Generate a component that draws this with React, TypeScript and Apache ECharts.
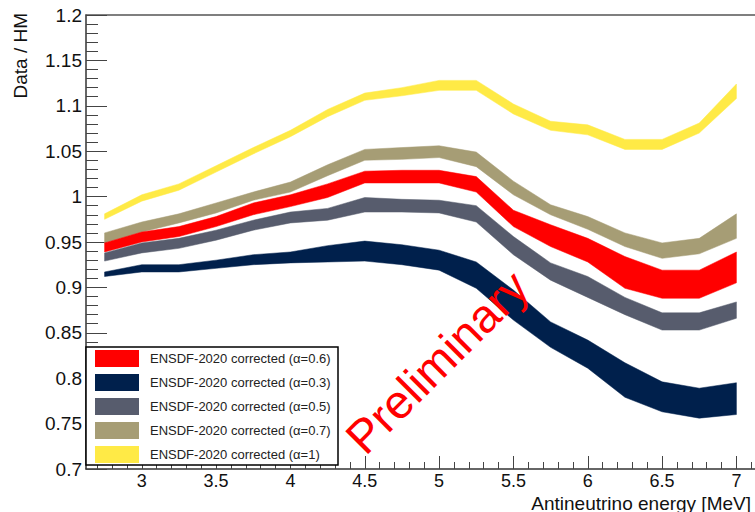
import React, { useEffect, useRef } from "react";
import * as echarts from "echarts";

// Bin centres (MeV)
const energy = [2.75, 3.0, 3.25, 3.5, 3.75, 4.0, 4.25, 4.5, 4.75, 5.0, 5.25, 5.5, 5.75, 6.0, 6.25, 6.5, 6.75, 7.0];

// alpha = 0.6 (red)
const a06Low = [0.939, 0.950, 0.956, 0.967, 0.980, 0.989, 0.999, 1.015, 1.015, 1.015, 1.005, 0.967, 0.945, 0.928, 0.899, 0.888, 0.888, 0.905];
const a06High = [0.949, 0.961, 0.967, 0.978, 0.993, 1.002, 1.014, 1.028, 1.029, 1.029, 1.022, 0.985, 0.969, 0.954, 0.934, 0.919, 0.919, 0.939];
// alpha = 0.3 (navy)
const a03Low = [0.912, 0.917, 0.917, 0.921, 0.925, 0.927, 0.928, 0.929, 0.925, 0.919, 0.899, 0.864, 0.834, 0.811, 0.779, 0.763, 0.756, 0.760];
const a03High = [0.917, 0.925, 0.925, 0.930, 0.936, 0.939, 0.946, 0.951, 0.947, 0.941, 0.928, 0.897, 0.862, 0.842, 0.817, 0.796, 0.789, 0.795];
// alpha = 0.5 (grey)
const a05Low = [0.929, 0.938, 0.943, 0.952, 0.963, 0.971, 0.974, 0.983, 0.983, 0.982, 0.972, 0.936, 0.908, 0.889, 0.870, 0.853, 0.853, 0.866];
const a05High = [0.938, 0.949, 0.954, 0.963, 0.974, 0.983, 0.987, 0.999, 0.997, 0.996, 0.990, 0.956, 0.927, 0.912, 0.889, 0.872, 0.872, 0.884];
// alpha = 0.7 (tan)
const a07Low = [0.949, 0.961, 0.971, 0.982, 0.996, 1.005, 1.023, 1.040, 1.041, 1.043, 1.033, 1.002, 0.980, 0.964, 0.945, 0.932, 0.937, 0.954];
const a07High = [0.960, 0.972, 0.981, 0.993, 1.005, 1.016, 1.035, 1.052, 1.054, 1.056, 1.049, 1.017, 0.991, 0.978, 0.960, 0.949, 0.954, 0.981];
// alpha = 1 (yellow)
const a1Low = [0.975, 0.995, 1.007, 1.027, 1.047, 1.066, 1.088, 1.106, 1.111, 1.117, 1.117, 1.091, 1.073, 1.068, 1.052, 1.052, 1.070, 1.108];
const a1High = [0.981, 1.002, 1.014, 1.034, 1.054, 1.073, 1.096, 1.114, 1.120, 1.128, 1.128, 1.102, 1.083, 1.079, 1.063, 1.063, 1.081, 1.124];

const seriesNames = [
  "ENSDF-2020 corrected (\u03b1=0.6)",
  "ENSDF-2020 corrected (\u03b1=0.3)",
  "ENSDF-2020 corrected (\u03b1=0.5)",
  "ENSDF-2020 corrected (\u03b1=0.7)",
  "ENSDF-2020 corrected (\u03b1=1)",
];

const majorTicksX = [3, 3.5, 4, 4.5, 5, 5.5, 6, 6.5, 7];
const minorTicksX = [2.7, 2.8, 2.9, 3.1, 3.2, 3.3, 3.4, 3.6, 3.7, 3.8, 3.9, 4.1, 4.2, 4.3, 4.4, 4.6, 4.7, 4.8, 4.9, 5.1, 5.2, 5.3, 5.4, 5.6, 5.7, 5.8, 5.9, 6.1, 6.2, 6.3, 6.4, 6.6, 6.7, 6.8, 6.9, 7.1];

const FONT = "'Liberation Sans', Arial, Helvetica, sans-serif";

function band(name: string, lo: number[], hi: number[], color: string) {
  return {
    type: "custom",
    name,
    xAxisIndex: 0,
    yAxisIndex: 0,
    itemStyle: { color },
    data: energy.map((x, i) => [x, lo[i], hi[i]]),
    encode: { x: 0, y: [1, 2] },
    renderItem: (params: any, api: any) => {
      if (params.dataIndex !== 0) return null;
      const pts: number[][] = [];
      for (let i = 0; i < energy.length; i++) pts.push(api.coord([energy[i], hi[i]]));
      for (let i = energy.length - 1; i >= 0; i--) pts.push(api.coord([energy[i], lo[i]]));
      return {
        type: "polygon",
        shape: { points: pts },
        style: { fill: color, stroke: color, lineWidth: 0.5 },
      };
    },
  };
}

export default function App() {
  const ref = useRef<HTMLDivElement>(null);
  useEffect(() => {
    if (!ref.current) return;
    const chart = echarts.init(ref.current, null, { renderer: "svg" });
    const axisColor = "#333";
    chart.setOption({
      animation: false,
      backgroundColor: "#fff",
      grid: { left: 86, right: 0, top: 15, bottom: 43, containLabel: false },
      xAxis: [
        {
          type: "value",
          position: "bottom",
          min: 2.625,
          max: 7.125,
          axisLine: { show: true, lineStyle: { color: axisColor, width: 1.5 } },
          axisTick: { show: true, inside: true, length: 13, customValues: majorTicksX, lineStyle: { color: "#444" } },
          axisLabel: { show: true, customValues: majorTicksX, fontSize: 18, fontFamily: FONT, color: "#111", margin: 3 },
          splitLine: { show: false },
        },
        {
          type: "value",
          position: "bottom",
          min: 2.625,
          max: 7.125,
          axisLine: { show: false },
          axisTick: { show: true, inside: true, length: 7, customValues: minorTicksX, lineStyle: { color: "#444" } },
          axisLabel: { show: false },
          splitLine: { show: false },
        },
        {
          type: "value",
          position: "top",
          min: 2.625,
          max: 7.125,
          axisLine: { show: true, lineStyle: { color: "#555", width: 1.5 } },
          axisTick: { show: false },
          axisLabel: { show: false },
          splitLine: { show: false },
        },
      ],
      yAxis: {
        type: "value",
        min: 0.7,
        max: 1.2,
        interval: 0.05,
        axisLine: { show: true, lineStyle: { color: axisColor, width: 1.5 } },
        axisTick: { show: true, inside: true, length: 21, lineStyle: { color: "#444" } },
        minorTick: { show: true, splitNumber: 5, length: 12, lineStyle: { color: "#444" } },
        axisLabel: { fontSize: 19, fontFamily: FONT, color: "#111", margin: 4 },
        splitLine: { show: false },
      },
      legend: {
        orient: "vertical",
        left: 90,
        top: 345,
        padding: 5,
        itemWidth: 44,
        itemHeight: 17,
        itemGap: 7,
        icon: "rect",
        selectedMode: false,
        z: 6,
        data: seriesNames,
        textStyle: { fontSize: 13, fontFamily: FONT, color: "#222", padding: [0, 0, 0, 6] },
      },
      graphic: [
        {
          type: "rect",
          z: 5,
          shape: { x: 86, y: 347, width: 252, height: 118 },
          style: { fill: "#fff", stroke: "#000", lineWidth: 1.5 },
        },
        {
          type: "text",
          z: 10,
          x: 20,
          y: 13,
          rotation: Math.PI / 2,
          style: { text: "Data / HM", font: `19px ${FONT}`, fill: "#111", textAlign: "right", textVerticalAlign: "middle" },
        },
        {
          type: "text",
          z: 10,
          x: 751,
          y: 503,
          style: { text: "Antineutrino energy [MeV]", font: `19px ${FONT}`, fill: "#111", textAlign: "right", textVerticalAlign: "middle" },
        },
        {
          type: "text",
          z: 10,
          x: 437,
          y: 362,
          rotation: Math.PI / 4,
          style: { text: "Preliminary", font: `47px ${FONT}`, fill: "#ff0000", textAlign: "center", textVerticalAlign: "middle" },
        },
      ],
      series: [
        band(seriesNames[4], a1Low, a1High, "#FFEA46"),
        band(seriesNames[3], a07Low, a07High, "#A69D75"),
        band(seriesNames[0], a06Low, a06High, "#FF0000"),
        band(seriesNames[2], a05Low, a05High, "#575C6D"),
        band(seriesNames[1], a03Low, a03High, "#00204C"),
      ],
    });
    return () => chart.dispose();
  }, []);
  return <div ref={ref} style={{ position: "fixed", left: 0, top: 0, width: 755, height: 512 }} />;
}
